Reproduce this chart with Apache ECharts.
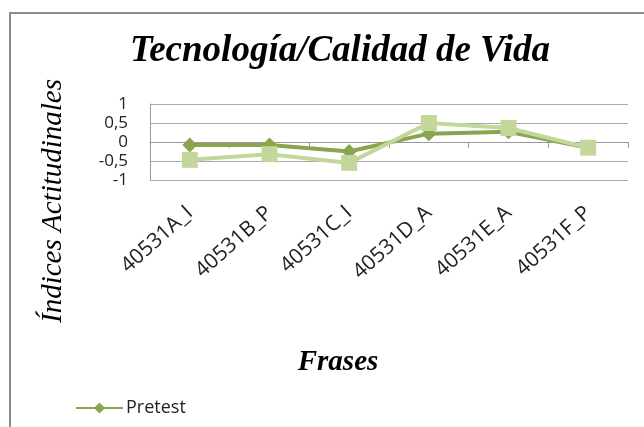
<!DOCTYPE html>
<html>
<head>
<meta charset="utf-8">
<script src="https://cdn.jsdelivr.net/npm/echarts@6/dist/echarts.min.js"></script>
<style>
  html, body { margin: 0; padding: 0; background: #fff; }
  #chart { width: 644px; height: 427px; }
</style>
</head>
<body>
<div id="chart"></div>
<script>
// datos
const frases = ['40531A_I', '40531B_P', '40531C_I', '40531D_A', '40531E_A', '40531F_P']
const pretest = [-0.08, -0.08, -0.25, 0.22, 0.27, -0.15]
const postest = [-0.47, -0.32, -0.55, 0.5, 0.37, -0.15]
const yTicks = { min: -1, max: 1, step: 0.5 }

const serif = 'Liberation Serif'
const chart = echarts.init(document.getElementById('chart'))

chart.setOption({
  animation: false,
  title: {
    text: 'Tecnología/Calidad de Vida',
    left: 335,
    top: 28,
    textAlign: 'center',
    textStyle: { fontFamily: serif, fontStyle: 'italic', fontWeight: 'bold', fontSize: 37, color: '#000' }
  },
  legend: {
    data: ['Pretest'],
    left: 75,
    top: 399,
    padding: 0,
    itemWidth: 47,
    itemHeight: 14,
    itemGap: 4,
    textStyle: { fontFamily: 'Open Sans', fontSize: 18, color: '#222', padding: [0, 0, 0, -2] }
  },
  graphic: [{
    type: 'rect',
    shape: { x: 10, y: 13, width: 700, height: 500 },
    style: { fill: 'none', stroke: '#8c8c8c', lineWidth: 2 },
    z: -1
  }, {
    // titulo del eje vertical
    type: 'text',
    x: 53,
    y: 201,
    rotation: Math.PI / 2,
    style: {
      text: 'Índices Actitudinales',
      font: 'italic 29px "Liberation Serif"',
      fill: '#000',
      align: 'center',
      verticalAlign: 'middle'
    }
  }, {
    type: 'text',
    x: 338,
    y: 363,
    style: {
      text: 'Frases',
      font: 'italic bold 29px "Liberation Serif"',
      fill: '#000',
      align: 'center',
      verticalAlign: 'middle'
    }
  }],
  grid: { left: 150, right: 16, top: 104, bottom: 247 },
  xAxis: [{
    type: 'category',
    data: frases,
    boundaryGap: true,
    axisLine: { onZero: true, lineStyle: { color: '#999', width: 1 } },
    axisTick: { show: true, length: 6, lineStyle: { color: '#999' } },
    axisLabel: { show: false }
  }, {
    type: 'category',
    data: frases,
    position: 'bottom',
    axisLine: { show: false },
    axisTick: { show: false },
    axisLabel: {
      rotate: 42,
      margin: 30,
      fontFamily: 'Open Sans',
      fontSize: 21,
      color: '#222'
    }
  }],
  yAxis: {
    type: 'value',
    min: yTicks.min,
    max: yTicks.max,
    interval: yTicks.step,
    axisLine: { show: true, lineStyle: { color: '#999' } },
    axisTick: { show: false },
    splitLine: { lineStyle: { color: '#aaa', width: 1 } },
    axisLabel: {
      margin: 22,
      fontFamily: 'Open Sans',
      fontSize: 17,
      lineHeight: 16,
      color: '#222',
      formatter: v => String(v).replace('.', ',')
    }
  },
  series: [{
    name: 'Pretest',
    type: 'line',
    data: pretest,
    symbol: 'diamond',
    symbolSize: 15,
    itemStyle: { color: '#89a54e' },
    lineStyle: { color: '#89a54e', width: 4 }
  }, {
    name: 'Postest',
    type: 'line',
    data: postest,
    symbol: 'rect',
    symbolSize: 16,
    itemStyle: { color: '#c3d69b' },
    lineStyle: { color: '#c3d69b', width: 4 }
  }]
})
</script>
</body>
</html>
